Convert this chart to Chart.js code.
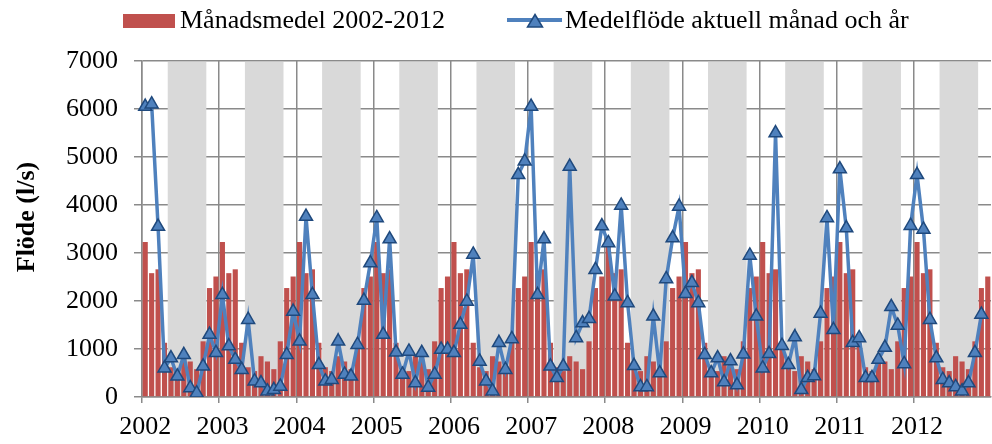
<!DOCTYPE html>
<html lang="sv">
<head>
<meta charset="utf-8">
<title>Flöde 2002–2012</title>
<script src="https://cdn.jsdelivr.net/npm/chart.js@4.4.1/dist/chart.umd.min.js"></script>
<style>
  html, body { margin: 0; padding: 0; background: #fff; overflow: hidden; }
  #wrap { position: relative; width: 992px; height: 444px; overflow: hidden; }
  #chart { position: absolute; left: 0; top: 0; }
  .legend-text {
    position: absolute; top: 7px;
    font: 26px 'Liberation Serif', 'Times New Roman', serif;
    line-height: 26px; color: #000; white-space: nowrap;
  }
  .swatch { position: absolute; left: 123px; top: 14px; width: 52px; height: 14px; background: #C0504D; }
  #lineKey { position: absolute; left: 505px; top: 10px; }
</style>
</head>
<body>
<div id="wrap">
  <canvas id="chart" width="1000" height="444"></canvas>
  <div class="swatch"></div>
  <div class="legend-text" style="left:180px">Månadsmedel 2002-2012</div>
  <svg id="lineKey" width="60" height="22">
    <line x1="2" y1="10" x2="57" y2="10" stroke="#4F81BD" stroke-width="4"/>
    <polygon points="30,4.5 37.5,17 22.5,17" fill="#4F81BD" stroke="#1F497D" stroke-width="1.5"/>
  </svg>
  <div class="legend-text" style="left:565px">Medelflöde aktuell månad och år</div>
</div>
<script>
// Years shown on the time axis
const years = ['2002', '2003', '2004', '2005', '2006', '2007', '2008', '2009', '2010', '2011', '2012'];

// Long-term mean flow per calendar month 2002-2012 (l/s), Jan..Dec
const monthlyMean = [3230, 2580, 2660, 1130, 620, 540, 850, 740, 580, 1160, 2270, 2510];

// Mean flow for each actual month (l/s), Jan 2002 .. Nov 2012
const actualFlow2002 = [6050, 6100, 3550, 600, 810, 430, 880, 190, 80, 640, 1300, 920];
const actualFlow2003 = [2130, 1060, 780, 570, 1610, 330, 290, 120, 150, 220, 880, 1780];
const actualFlow2004 = [1160, 3760, 2130, 670, 330, 360, 1160, 470, 430, 1090, 2010, 2790];
const actualFlow2005 = [3730, 1300, 3290, 930, 470, 950, 290, 920, 200, 470, 990, 990];
const actualFlow2006 = [920, 1510, 1990, 2970, 740, 330, 120, 1130, 570, 1210, 4630, 4910];
const actualFlow2007 = [6050, 2130, 3290, 640, 400, 640, 4800, 1230, 1540, 1630, 2650, 3560];
const actualFlow2008 = [3210, 2100, 3990, 1960, 650, 210, 210, 1680, 500, 2460, 3310, 3970];
const actualFlow2009 = [2150, 2380, 1960, 880, 500, 810, 310, 750, 250, 890, 2950, 1680];
const actualFlow2010 = [600, 900, 5500, 1070, 670, 1250, 150, 400, 440, 1740, 3730, 1400];
const actualFlow2011 = [4750, 3520, 1130, 1230, 400, 400, 780, 1030, 1880, 1490, 690, 3570];
const actualFlow2012 = [4630, 3490, 1610, 810, 360, 290, 210, 120, 290, 920, 1720];

// Calendar months (0-based) shaded as the summer half-year, May..Oct
const greyMonths = [4, 5, 6, 7, 8, 9];

const actualFlow = [].concat(actualFlow2002, actualFlow2003, actualFlow2004, actualFlow2005,
  actualFlow2006, actualFlow2007, actualFlow2008, actualFlow2009, actualFlow2010,
  actualFlow2011, actualFlow2012);
const monthLabels = years.flatMap(y =>
  Array.from({ length: 12 }, (_, m) => y + '-' + String(m + 1).padStart(2, '0')));
const meanSeries = years.flatMap(() => monthlyMean);

const FONT = "'Liberation Serif', 'Times New Roman', serif";
const GRID = '#8a8a8a';
const yearLine = ctx => (ctx.index % 12 === 0 ? GRID : 'rgba(0,0,0,0)');

// Grey background columns for May-Oct of every year, under the bars
const greyBands = {
  id: 'greyBands',
  beforeDatasetsDraw(chart) {
    const { ctx, chartArea, scales: { x } } = chart;
    const half = (x.getPixelForValue(1) - x.getPixelForValue(0)) / 2;
    const first = Math.min(...greyMonths), last = Math.max(...greyMonths);
    ctx.save();
    ctx.beginPath();
    ctx.rect(chartArea.left, chartArea.top, chartArea.right - chartArea.left, chartArea.bottom - chartArea.top);
    ctx.clip();
    ctx.fillStyle = '#D9D9D9';
    years.forEach((_, k) => {
      const x0 = x.getPixelForValue(k * 12 + first) - half;
      const x1 = x.getPixelForValue(k * 12 + last) + half;
      ctx.fillRect(x0, chartArea.top + 1, x1 - x0, chartArea.bottom - chartArea.top - 2);
    });
    ctx.restore();
  }
};

// Rotated y-axis title
const yTitle = {
  id: 'yTitle',
  afterDraw(chart) {
    const { ctx } = chart;
    ctx.save();
    ctx.translate(33.5, 217);
    ctx.rotate(-Math.PI / 2);
    ctx.font = 'bold 26px ' + FONT;
    ctx.fillStyle = '#000';
    ctx.textAlign = 'center';
    ctx.textBaseline = 'alphabetic';
    ctx.fillText('Flöde (l/s)', 0, 0);
    ctx.restore();
  }
};

new Chart(document.getElementById('chart'), {
  type: 'bar',
  data: {
    labels: monthLabels,
    datasets: [
      {
        type: 'line',
        label: 'Medelflöde aktuell månad och år',
        data: actualFlow,
        order: 0,
        borderColor: '#4F81BD',
        borderWidth: 3.5,
        tension: 0,
        pointStyle: 'triangle',
        pointRadius: 7.5,
        pointBackgroundColor: '#4F81BD',
        pointBorderColor: '#1F497D',
        pointBorderWidth: 1.5
      },
      {
        type: 'bar',
        label: 'Månadsmedel 2002-2012',
        data: meanSeries,
        order: 1,
        backgroundColor: '#C0504D',
        barPercentage: 0.8,
        categoryPercentage: 1
      }
    ]
  },
  options: {
    responsive: false,
    animation: false,
    devicePixelRatio: 1,
    layout: { padding: { top: 61, left: 0, right: 0, bottom: 0 } },
    plugins: { legend: { display: false }, tooltip: { enabled: false } },
    scales: {
      x: {
        offset: true,
        grid: { offset: true, color: yearLine, tickColor: yearLine, lineWidth: 1.5, tickLength: 6 },
        border: { display: true, color: GRID, width: 1.5 },
        ticks: {
          autoSkip: false, maxRotation: 0, minRotation: 0, padding: 9, color: '#000',
          font: { family: FONT, size: 26 },
          callback: (v, i) => (i % 12 === 0 ? years[i / 12] : '')
        },
        afterFit: s => { s.height = 47; }
      },
      y: {
        min: 0, max: 7000,
        ticks: {
          stepSize: 1000, padding: 16, color: '#000',
          font: { family: FONT, size: 26 },
          callback: v => String(v)
        },
        grid: { color: GRID, tickColor: GRID, lineWidth: 1.5, tickLength: 8 },
        border: { color: GRID, width: 1.5 },
        afterFit: s => { s.width = 142; }
      }
    }
  },
  plugins: [greyBands, yTitle]
});
</script>
</body>
</html>
